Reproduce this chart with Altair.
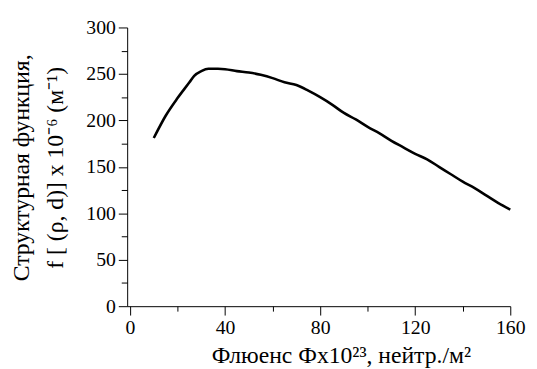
import altair as alt
import pandas as pd

fluence = [10, 15, 20, 25, 27, 30, 33, 37, 40, 45, 50, 55, 60, 65, 70, 75, 80,
           85, 90, 95, 100, 105, 110, 115, 120, 125, 130, 135, 140, 145, 150, 155, 160]
struct_f = [181, 205, 224, 241, 248, 253, 255.5, 255.5, 255, 253, 251.5, 249, 245.5,
            241, 238, 232, 225, 217, 208, 201, 193, 186, 178, 171, 164, 158, 150,
            142, 134, 127, 119, 111, 104]

x_major = [0, 40, 80, 120, 160]
x_minor = [20, 60, 100, 140]
y_major = [0, 50, 100, 150, 200, 250, 300]
y_minor = [25, 75, 125, 175, 225, 275]

df = pd.DataFrame({"x": fluence, "y": struct_f})

FONT = "Liberation Serif"
xscale = alt.Scale(domain=[-1.2, 160], nice=False, zero=False)
yscale = alt.Scale(domain=[0, 300], nice=False)

main = alt.Chart(df).mark_line(color="black", strokeWidth=2.6, interpolate="monotone").encode(
    x=alt.X("x:Q", scale=xscale, axis=alt.Axis(
        values=x_major, tickSize=9, tickColor="black", domainColor="black",
        labelFont=FONT, labelFontSize=20, labelColor="black", labelPadding=3,
        labelFlush=False, grid=False,
        title="Флюенс Фx10²³, нейтр./м²", titleFont=FONT, titleFontSize=24,
        titleFontWeight="normal", titleColor="black", titleX=217, titleY=57,
        titleBaseline="alphabetic", titleAlign="center")),
    y=alt.Y("y:Q", scale=yscale, axis=alt.Axis(
        values=y_major, tickSize=9, tickColor="black", domainColor="black",
        labelFont=FONT, labelFontSize=20, labelColor="black", labelPadding=3,
        labelFlush=False, grid=False,
        title=["Структурная функция,", "f [ (ρ, d)] x 10⁻⁶ (м⁻¹)"],
        titleFont=FONT, titleFontSize=24, titleFontWeight="normal",
        titleColor="black", titleX=-95, titleY=142, titleLineHeight=34,
        titleAngle=270, titleBaseline="bottom", titleAlign="center")),
)

minor = alt.Chart(df).mark_line(opacity=0).encode(
    x=alt.X("x:Q", scale=xscale, axis=alt.Axis(
        values=x_minor, tickSize=5, tickColor="black", labels=False,
        domain=False, grid=False, title=None, orient="bottom")),
    y=alt.Y("y:Q", scale=yscale, axis=alt.Axis(
        values=y_minor, tickSize=6, tickColor="black", labels=False,
        domain=False, grid=False, title=None, orient="left")),
)

chart = alt.layer(main, minor).resolve_axis(x="independent", y="independent").properties(
    width=389, height=283,
    autosize=alt.AutoSizeParams(type="none"),
    padding={"left": 121, "top": 17, "right": 19, "bottom": 61},
    background="white",
).configure_view(stroke=None)

chart.save("out.html", embed_options={"renderer": "svg", "actions": False})
